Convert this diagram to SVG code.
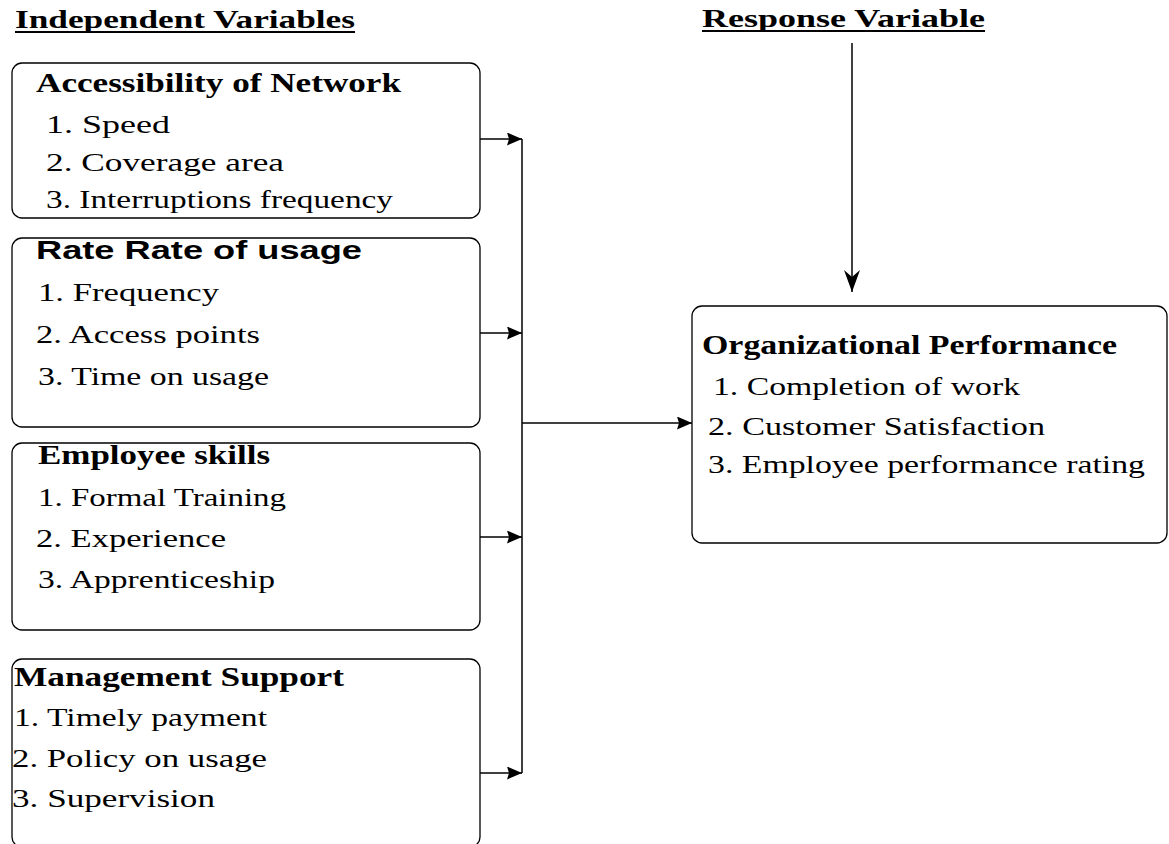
<svg xmlns="http://www.w3.org/2000/svg" width="1169" height="844" viewBox="0 0 1169 844">
<defs>
<style>
.box{fill:none;stroke:#000;stroke-width:1.3}
.ttl{font-family:"Liberation Serif",serif;font-weight:bold;font-size:27px;fill:#000}
.ttls{font-family:"Liberation Sans",sans-serif;font-weight:bold;font-size:26px;fill:#000}
.itm{font-family:"Liberation Serif",serif;font-size:26px;fill:#000}
.hd{font-family:"Liberation Serif",serif;font-weight:bold;font-size:25px;fill:#000}
.ln{fill:none;stroke:#000;stroke-width:1.5}
.ul{stroke:#000;stroke-width:2}
</style>
<marker id="arR" viewBox="0 0 15 13" refX="15" refY="6.5" markerWidth="15" markerHeight="13" markerUnits="userSpaceOnUse" orient="auto">
<path d="M0,0 L15,6.5 L0,13 L2,6.5 Z" fill="#000"/>
</marker>
<marker id="arD" viewBox="0 0 22 16" refX="22" refY="8" markerWidth="22" markerHeight="16" markerUnits="userSpaceOnUse" orient="auto">
<path d="M0,0 L22,8 L0,16 L7,8 Z" fill="#000"/>
</marker>
</defs>
<rect width="1169" height="844" fill="#fff"/>

<g id="heading-independent">
<text class="hd" x="15" y="28" textLength="340" lengthAdjust="spacingAndGlyphs">Independent Variables</text>
<line class="ul" x1="15" y1="32" x2="355" y2="32"/>
</g>
<g id="heading-response">
<text class="hd" x="702" y="27" textLength="283" lengthAdjust="spacingAndGlyphs">Response Variable</text>
<line class="ul" x1="702" y1="31" x2="985" y2="31"/>
</g>

<g id="node-accessibility">
<rect class="box" x="12" y="63" width="468" height="155" rx="10"/>
<text class="ttl" x="36" y="92" textLength="365" lengthAdjust="spacingAndGlyphs">Accessibility of Network</text>
<text class="itm" x="46" y="133" textLength="124" lengthAdjust="spacingAndGlyphs">1. Speed</text>
<text class="itm" x="46" y="171" textLength="238" lengthAdjust="spacingAndGlyphs">2. Coverage area</text>
<text class="itm" x="46" y="208" textLength="347" lengthAdjust="spacingAndGlyphs">3. Interruptions frequency</text>
</g>

<g id="node-rate">
<rect class="box" x="12" y="238" width="468" height="189" rx="10"/>
<text class="ttls" x="36" y="259" textLength="326" lengthAdjust="spacingAndGlyphs">Rate Rate of usage</text>
<text class="itm" x="38" y="301" textLength="181" lengthAdjust="spacingAndGlyphs">1. Frequency</text>
<text class="itm" x="36" y="343" textLength="224" lengthAdjust="spacingAndGlyphs">2. Access points</text>
<text class="itm" x="38" y="385" textLength="231" lengthAdjust="spacingAndGlyphs">3. Time on usage</text>
</g>

<g id="node-skills">
<rect class="box" x="12" y="443" width="468" height="187" rx="10"/>
<text class="ttl" x="38" y="464" textLength="232" lengthAdjust="spacingAndGlyphs">Employee skills</text>
<text class="itm" x="38" y="506" textLength="248" lengthAdjust="spacingAndGlyphs">1. Formal Training</text>
<text class="itm" x="36" y="547" textLength="190" lengthAdjust="spacingAndGlyphs">2. Experience</text>
<text class="itm" x="38" y="588" textLength="237" lengthAdjust="spacingAndGlyphs">3. Apprenticeship</text>
</g>

<g id="node-management">
<rect class="box" x="12" y="659" width="468" height="188" rx="10"/>
<text class="ttl" x="14" y="686" textLength="330" lengthAdjust="spacingAndGlyphs">Management Support</text>
<text class="itm" x="14" y="726" textLength="253" lengthAdjust="spacingAndGlyphs">1. Timely payment</text>
<text class="itm" x="12" y="767" textLength="255" lengthAdjust="spacingAndGlyphs">2. Policy on usage</text>
<text class="itm" x="12" y="807" textLength="203" lengthAdjust="spacingAndGlyphs">3. Supervision</text>
</g>

<g id="node-performance">
<rect class="box" x="692" y="306" width="475" height="237" rx="10"/>
<text class="ttl" x="702" y="354" textLength="415" lengthAdjust="spacingAndGlyphs">Organizational Performance</text>
<text class="itm" x="713" y="395" textLength="307" lengthAdjust="spacingAndGlyphs">1. Completion of work</text>
<text class="itm" x="708" y="435" textLength="337" lengthAdjust="spacingAndGlyphs">2. Customer Satisfaction</text>
<text class="itm" x="708" y="473" textLength="437" lengthAdjust="spacingAndGlyphs">3. Employee performance rating</text>
</g>

<g id="connectors">
<line class="ln" x1="480" y1="139" x2="522" y2="139" marker-end="url(#arR)"/>
<line class="ln" x1="480" y1="333" x2="522" y2="333" marker-end="url(#arR)"/>
<line class="ln" x1="480" y1="537" x2="522" y2="537" marker-end="url(#arR)"/>
<line class="ln" x1="480" y1="773" x2="522" y2="773" marker-end="url(#arR)"/>
<line class="ln" x1="522" y1="139" x2="522" y2="773"/>
<line class="ln" x1="522" y1="423" x2="692" y2="423" marker-end="url(#arR)"/>
<line class="ln" x1="852" y1="43" x2="852" y2="292" marker-end="url(#arD)"/>
</g>
</svg>
